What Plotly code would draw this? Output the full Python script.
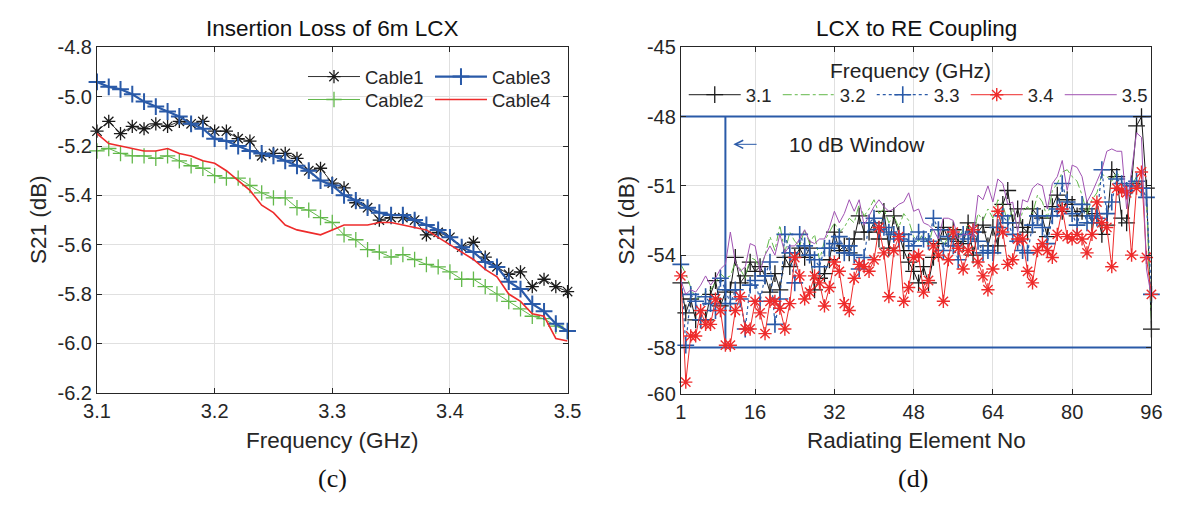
import plotly.graph_objects as go

# ---------------- data: left panel (Insertion Loss of 6m LCX) ----------------
FREQ_GHZ = [3.10, 3.11, 3.12, 3.13, 3.14, 3.15, 3.16, 3.17, 3.18, 3.19,
            3.20, 3.21, 3.22, 3.23, 3.24, 3.25, 3.26, 3.27, 3.28, 3.29,
            3.30, 3.31, 3.32, 3.33, 3.34, 3.35, 3.36, 3.37, 3.38, 3.39,
            3.40, 3.41, 3.42, 3.43, 3.44, 3.45, 3.46, 3.47, 3.48, 3.49, 3.50]
CABLE1 = [-5.14, -5.10, -5.15, -5.12, -5.13, -5.11, -5.12, -5.10, -5.11, -5.10,
          -5.14, -5.14, -5.17, -5.18, -5.24, -5.23, -5.23, -5.25, -5.30, -5.29,
          -5.35, -5.37, -5.43, -5.45, -5.50, -5.49, -5.49, -5.50, -5.56, -5.55,
          -5.57, -5.61, -5.59, -5.65, -5.69, -5.72, -5.71, -5.77, -5.74, -5.77, -5.79]
CABLE2 = [-5.22, -5.21, -5.23, -5.24, -5.24, -5.25, -5.24, -5.26, -5.28, -5.29,
          -5.32, -5.33, -5.33, -5.36, -5.39, -5.41, -5.41, -5.45, -5.46, -5.49,
          -5.51, -5.56, -5.58, -5.62, -5.63, -5.65, -5.64, -5.66, -5.68, -5.69,
          -5.71, -5.74, -5.74, -5.77, -5.80, -5.83, -5.86, -5.89, -5.90, -5.93, -5.95]
CABLE3 = [-4.94, -4.96, -4.97, -4.99, -5.02, -5.04, -5.06, -5.08, -5.11, -5.13,
          -5.17, -5.18, -5.20, -5.22, -5.23, -5.24, -5.26, -5.28, -5.30, -5.34,
          -5.36, -5.40, -5.42, -5.45, -5.47, -5.48, -5.48, -5.50, -5.52, -5.54,
          -5.57, -5.61, -5.63, -5.67, -5.69, -5.75, -5.78, -5.84, -5.87, -5.92, -5.95]
CABLE4 = [-5.15, -5.19, -5.20, -5.21, -5.22, -5.22, -5.21, -5.23, -5.24, -5.26,
          -5.27, -5.30, -5.34, -5.38, -5.44, -5.47, -5.52, -5.54, -5.55, -5.56,
          -5.54, -5.52, -5.52, -5.52, -5.51, -5.51, -5.52, -5.53, -5.54, -5.57,
          -5.60, -5.63, -5.66, -5.70, -5.73, -5.80, -5.83, -5.88, -5.89, -5.98, -5.99]
LEFT_XTICKS = [3.1, 3.2, 3.3, 3.4, 3.5]
LEFT_XTICKTEXT = ["3.1", "3.2", "3.3", "3.4", "3.5"]
LEFT_YTICKS = [-6.2, -6.0, -5.8, -5.6, -5.4, -5.2, -5.0, -4.8]
LEFT_YTICKTEXT = ["-6.2", "-6.0", "-5.8", "-5.6", "-5.4", "-5.2", "-5.0", "-4.8"]

# ---------------- data: right panel (LCX to RE Coupling) ----------------
ELEMENT_NO = list(range(1, 97))
F31 = [-55.2, -56.5, -55.9, -56.8, -56.8, -56.8, -55.7, -55.1, -56.2, -55.6,
       -55.5, -54.1, -55.2, -54.9, -54.3, -54.7, -54.5, -54.9, -55.6, -54.8,
       -55.5, -54.1, -54.5, -54.1, -53.7, -54.1, -53.7, -55.5, -55.0, -54.8,
       -54.2, -53.0, -53.8,
       -53.6, -53.9, -53.3, -52.3, -53.0, -53.0, -52.6, -53.3, -52.1, -53.7,
       -52.3, -53.1, -53.8, -54.3, -54.7, -55.2, -54.5, -55.2, -54.1, -53.5,
       -52.8, -53.3, -52.9, -53.4, -53.5, -52.6, -54.0, -53.0, -52.7, -53.6,
       -52.8, -53.6, -51.8, -51.2, -52.6, -52.0, -52.8, -53.0, -52.0, -52.3,
       -52.4, -53.2, -51.9, -51.4, -52.1, -51.6, -51.8, -52.3, -52.1, -52.0,
       -52.6, -52.2, -53.1, -52.7, -50.3, -50.6, -52.4, -52.6, -50.9, -48.4,
       -48.0, -51.1, -57.2]
F32 = [-54.4, -54.8, -55.4, -55.9, -55.8, -55.6, -55.5, -55.2, -54.8, -55.0, -54.9, -54.3, -54.6, -55.0, -54.1, -54.2,
       -54.6, -54.0, -53.2, -53.8, -52.7, -53.9, -53.0, -53.4, -53.6, -52.9, -53.5, -53.1, -54.2, -53.4, -53.0, -52.6,
       -53.0, -52.8, -52.4, -52.6, -51.8, -52.3, -52.0, -51.6, -52.2, -52.0, -52.6, -52.3, -52.8, -52.2, -52.5, -53.2,
       -53.4, -53.0, -53.6, -52.7, -53.0, -53.6, -53.2, -52.8, -53.3, -52.9, -52.7, -53.1, -52.2, -52.5, -52.0, -52.4,
       -51.6, -51.8, -52.6, -52.0, -52.9, -52.1, -51.9, -52.2, -51.4, -51.7, -52.4, -51.2, -50.9, -50.4, -50.3, -50.6,
       -50.8, -51.4, -52.2, -51.6, -51.3, -50.5, -50.6, -50.8, -50.4, -50.8, -51.5, -51.0, -50.6, -51.0, -51.6, -56.8]
F33 = [-54.4, -57.9, -55.7, -56.0, -56.8, -55.8, -56.1, -56.4, -55.0, -55.5, -56.1, -55.5, -55.9, -57.2, -55.3, -55.1,
       -56.0, -54.9, -54.3, -57.0, -55.9, -53.1, -53.9, -55.2, -53.1, -53.6, -54.0, -54.2, -54.5, -53.7, -53.7, -53.5,
       -53.2, -53.9, -53.6, -54.0, -54.6, -54.1, -52.6, -52.4, -52.9, -52.8, -53.0, -53.1, -53.3, -53.1, -53.4, -53.6,
       -53.0, -53.3, -53.4, -52.4, -52.9, -53.8, -53.2, -53.6, -54.2, -53.1, -53.3, -53.0, -53.4, -53.9, -53.8, -53.9,
       -52.8, -52.3, -52.6, -53.1, -53.4, -53.8, -53.9, -52.7, -52.3, -52.8, -53.5, -52.3, -52.0, -50.9, -51.7, -52.2,
       -52.7, -51.8, -52.6, -52.3, -52.4, -50.3, -52.2, -51.7, -50.7, -50.9, -51.2, -51.0, -50.8, -51.1, -51.5, -55.7]
F34 = [-54.9, -59.5, -57.5, -57.5, -56.4, -57.0, -57.0, -55.9,
       -56.4, -57.9, -57.9, -56.4, -55.8, -57.2, -57.2, -56.0,
       -56.5, -57.4, -56.0, -56.0, -56.3, -57.2, -56.1, -54.1,
       -54.9, -55.9, -55.6, -54.9, -55.2, -56.2, -55.4, -54.3,
       -54.7, -56.1, -56.4, -55.0, -54.4, -54.5, -54.7, -54.2,
       -52.8, -53.9, -55.8, -53.8, -53.2, -56.0, -55.4, -54.1,
       -54.0, -55.6, -55.1, -53.6, -54.0, -56.0, -54.2, -53.0,
       -53.7, -54.6, -53.8, -52.9, -54.3, -54.9, -55.5, -54.6,
       -52.1, -53.0, -54.4, -54.2, -53.3, -53.3, -54.7, -55.2,
       -53.8, -53.5, -53.8, -54.1, -53.1, -52.0, -53.2, -53.3,
       -53.1, -53.3, -53.9, -53.1, -51.7, -52.6, -52.8, -54.5,
       -51.1, -51.2, -51.3, -54.0, -51.1, -50.4, -54.1, -55.7]
F35 = [-55.1, -55.7, -55.5, -55.6, -55.3, -54.9, -55.3, -55.0, -54.6, -54.4,
       -53.0, -54.3, -54.7, -54.5, -53.5, -53.6, -54.7, -54.0, -53.6, -54.0,
       -53.1, -53.9, -53.6, -53.6, -53.3, -52.9, -53.4, -53.5, -53.3, -53.3,
       -52.8, -52.1, -52.6,
       -52.2, -51.6, -52.1, -51.6, -52.7, -52.3, -51.9, -51.6, -51.9, -52.1,
       -52.0, -51.8, -51.7, -51.3, -52.1, -52.0, -52.6, -52.7, -52.9, -53.3,
       -52.4, -52.4, -52.5, -53.3, -53.1, -53.1, -53.2, -51.4, -51.6, -51.0,
       -51.7, -50.7, -50.9, -51.8, -51.7, -53.0, -51.6, -51.7, -51.1, -50.9,
       -51.0, -52.0, -50.9, -50.6, -49.9, -51.2, -50.1, -50.2, -50.6, -51.7,
       -51.3, -50.8, -50.3, -49.5, -49.4, -49.5, -49.5, -52.0, -50.3, -48.7,
       -48.9, -54.6, -55.8]
RIGHT_XTICKS = [1, 16, 32, 48, 64, 80, 96]
RIGHT_YTICKS = [-60, -58, -54, -51, -48, -45]
RIGHT_YTICKTEXT = ["-60", "-58", "-54", "-51", "-48", "-45"]
WINDOW_HIGH = -48
WINDOW_LOW = -58
WINDOW_X = 10
WINDOW_LABEL = "10 dB Window"

for s in (F31, F32, F33, F34, F35):
    assert len(s) == 96, len(s)
for s in (CABLE1, CABLE2, CABLE3, CABLE4):
    assert len(s) == len(FREQ_GHZ)

# ---------------- styling ----------------
FONT = "Liberation Sans, Arial, Helvetica, sans-serif"
SERIF = "Liberation Serif, Times New Roman, serif"
AXC = "#262626"
GRID = "#e0e0e0"
BLACK = "#1a1a1a"
GREEN = "#62b84a"
BLUE = "#2a5aa8"
RED = "#ee2b2b"
PURPLE = "#a052b2"
W, H = 1182, 508

def px_x(p):
    return p / W

def px_y(p):
    return 1 - p / H

fig = go.Figure()

# left panel traces
fig.add_trace(go.Scatter(x=FREQ_GHZ, y=CABLE1, name="Cable1", mode="lines+markers",
                         line=dict(color=BLACK, width=0.9),
                         marker=dict(symbol="asterisk-open", size=11, color=BLACK, line=dict(width=1.3, color=BLACK)),
                         xaxis="x", yaxis="y", legend="legend", cliponaxis=False))
fig.add_trace(go.Scatter(x=FREQ_GHZ, y=CABLE2, name="Cable2", mode="lines+markers",
                         line=dict(color=GREEN, width=1),
                         marker=dict(symbol="cross-thin-open", size=11, color=GREEN, line=dict(width=1.3, color=GREEN)),
                         xaxis="x", yaxis="y", legend="legend2", cliponaxis=False))
fig.add_trace(go.Scatter(x=FREQ_GHZ, y=CABLE3, name="Cable3", mode="lines+markers",
                         line=dict(color=BLUE, width=2.2),
                         marker=dict(symbol="cross-thin-open", size=12, color=BLUE, line=dict(width=2, color=BLUE)),
                         xaxis="x", yaxis="y", legend="legend", cliponaxis=False))
fig.add_trace(go.Scatter(x=FREQ_GHZ, y=CABLE4, name="Cable4", mode="lines",
                         line=dict(color=RED, width=1.6),
                         xaxis="x", yaxis="y", legend="legend2", cliponaxis=False))

# right panel: 10 dB window frame
fig.add_trace(go.Scatter(x=[ELEMENT_NO[0], ELEMENT_NO[-1], None, ELEMENT_NO[0], ELEMENT_NO[-1], None, WINDOW_X, WINDOW_X],
                         y=[WINDOW_HIGH, WINDOW_HIGH, None, WINDOW_LOW, WINDOW_LOW, None, WINDOW_LOW, WINDOW_HIGH],
                         mode="lines", line=dict(color=BLUE, width=2), showlegend=False,
                         hoverinfo="skip", xaxis="x2", yaxis="y2", cliponaxis=False))

fig.add_trace(go.Scatter(x=ELEMENT_NO, y=F31, name="3.1", mode="lines+markers",
                         line=dict(color=BLACK, width=1),
                         marker=dict(symbol="cross-thin-open", size=12, color=BLACK, line=dict(width=1.3, color=BLACK)),
                         xaxis="x2", yaxis="y2", legend="legend3", cliponaxis=False))
fig.add_trace(go.Scatter(x=ELEMENT_NO, y=F32, name="3.2", mode="lines",
                         line=dict(color=GREEN, width=1, dash="dashdot"),
                         xaxis="x2", yaxis="y2", legend="legend3", cliponaxis=False))
fig.add_trace(go.Scatter(x=ELEMENT_NO, y=F33, name="3.3", mode="lines+markers",
                         line=dict(color=BLUE, width=1.2, dash="dot"),
                         marker=dict(symbol="cross-thin-open", size=12, color=BLUE, line=dict(width=1.6, color=BLUE)),
                         xaxis="x2", yaxis="y2", legend="legend3", cliponaxis=False))
fig.add_trace(go.Scatter(x=ELEMENT_NO, y=F34, name="3.4", mode="lines+markers",
                         line=dict(color=RED, width=1),
                         marker=dict(symbol="asterisk-open", size=11, color=RED, line=dict(width=1.4, color=RED)),
                         xaxis="x2", yaxis="y2", legend="legend3", cliponaxis=False))
fig.add_trace(go.Scatter(x=ELEMENT_NO, y=F35, name="3.5", mode="lines",
                         line=dict(color=PURPLE, width=1),
                         xaxis="x2", yaxis="y2", legend="legend3", cliponaxis=False))

axis_common = dict(showline=True, linecolor=AXC, linewidth=1, mirror="ticks",
                   ticks="inside", ticklen=5, tickcolor=AXC, tickwidth=1,
                   showgrid=True, gridcolor=GRID, gridwidth=1, zeroline=False,
                   tickfont=dict(family=FONT, size=20, color=AXC))

legend_common = dict(orientation="h", xanchor="left", yanchor="middle",
                     bgcolor="rgba(0,0,0,0)", borderwidth=0,
                     font=dict(family=FONT, size=18.5, color=AXC),
                     itemwidth=52, entrywidthmode="pixels")

fig.update_layout(
    width=W, height=H, autosize=False,
    margin=dict(l=0, r=0, t=0, b=0, pad=0),
    paper_bgcolor="white", plot_bgcolor="white",
    font=dict(family=FONT, color=AXC),
    xaxis=dict(domain=[px_x(85), px_x(567)], range=[3.1, 3.5],
               tickvals=LEFT_XTICKS, ticktext=LEFT_XTICKTEXT, anchor="y", **axis_common),
    yaxis=dict(domain=[px_y(399), px_y(38)], range=[-6.2, -4.8],
               tickvals=LEFT_YTICKS, ticktext=LEFT_YTICKTEXT, anchor="x", **axis_common),
    xaxis2=dict(domain=[px_x(683), px_x(1165)], range=[1, 96],
                tickvals=RIGHT_XTICKS, anchor="y2", **axis_common),
    yaxis2=dict(domain=[px_y(400), px_y(38)], range=[-60, -45],
                tickvals=RIGHT_YTICKS, ticktext=RIGHT_YTICKTEXT, anchor="x2", **axis_common),
    legend=dict(x=px_x(296), y=px_y(69), entrywidth=60, **legend_common),
    legend2=dict(x=px_x(296), y=px_y(93), entrywidth=60, **legend_common),
    legend3=dict(x=px_x(686), y=px_y(88), entrywidth=27, **legend_common),
    showlegend=True,
)

ann = []
def text_ann(txt, x, y, size, color=AXC, family=FONT, angle=0):
    ann.append(dict(text=txt, x=px_x(x), y=px_y(y), xref="paper", yref="paper",
                    xanchor="center", yanchor="middle", showarrow=False, textangle=angle,
                    font=dict(family=family, size=size, color=color)))

text_ann("Insertion Loss of 6m LCX", 326, 18, 22.5, "#111111")
text_ann("LCX to RE Coupling", 924, 18, 22.5, "#111111")
text_ann("Frequency (GHz)", 326, 449, 22.5)
text_ann("Radiating Element No", 924, 449, 22.5)
text_ann("S21 (dB)", 25, 218, 22.5, angle=-90)
text_ann("S21 (dB)", 627, 219, 22.5, angle=-90)
text_ann("(c)", 326, 489, 26, "#111111", SERIF)
text_ann("(d)", 921, 489, 26, "#111111", SERIF)
text_ann("Frequency (GHz)", 918, 62, 21, "#222222")

# window arrow + label
ann.append(dict(x=11.6, y=-49.2, ax=16.6, ay=-49.2, xref="x2", yref="y2", axref="x2", ayref="y2",
                showarrow=True, arrowhead=5, arrowsize=1.6, arrowwidth=1, arrowcolor=BLUE, text=""))
ann.append(dict(x=36.5, y=-49.2, xref="x2", yref="y2", text=WINDOW_LABEL, showarrow=False,
                xanchor="center", yanchor="middle", font=dict(family=FONT, size=21, color="#222222")))

fig.update_layout(annotations=ann)

fig.write_html("out.html")
